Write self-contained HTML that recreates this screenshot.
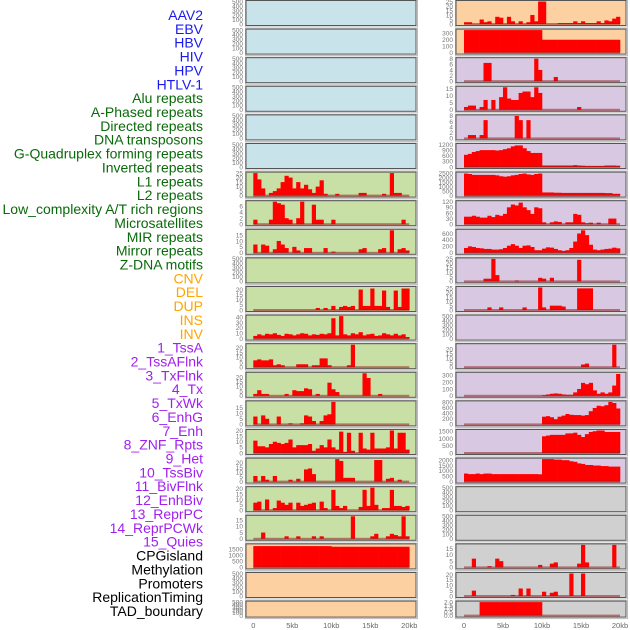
<!DOCTYPE html>
<html><head><meta charset="utf-8"><style>
html,body{margin:0;padding:0;background:#fff;}
svg{display:block;font-family:"Liberation Sans",sans-serif;}
</style></head><body>
<svg id="chart" width="630" height="630" viewBox="0 0 630 630"></svg>
<script>
const labels = ["AAV2","EBV","HBV","HIV","HPV","HTLV-1","Alu repeats","A-Phased repeats","Directed repeats","DNA transposons","G-Quadruplex forming repeats","Inverted repeats","L1 repeats","L2 repeats","Low_complexity A/T rich regions","Microsatellites","MIR repeats","Mirror repeats","Z-DNA motifs","CNV","DEL","DUP","INS","INV","1_TssA","2_TssAFlnk","3_TxFlnk","4_Tx","5_TxWk","6_EnhG","7_Enh","8_ZNF_Rpts","9_Het","10_TssBiv","11_BivFlnk","12_EnhBiv","13_ReprPC","14_ReprPCWk","15_Quies","CPGisland","Methylation","Promoters","ReplicationTiming","TAD_boundary"];
const groups = ["virus","virus","virus","virus","virus","virus","repeat","repeat","repeat","repeat","repeat","repeat","repeat","repeat","repeat","repeat","repeat","repeat","repeat","sv","sv","sv","sv","sv","chrom","chrom","chrom","chrom","chrom","chrom","chrom","chrom","chrom","chrom","chrom","chrom","chrom","chrom","chrom","other","other","other","other","other"];
const xTickLabels = ["0","5kb","10kb","15kb","20kb"];
const xTickValues = [0,5,10,15,20];
const t500 = [0,100,200,300,400,500];
const ticks = [t500,t500,t500,t500,t500,t500,[0,5,10,15,20,25],[0,2,4,6],[0,5,10,15],t500,[0,5,10,15,20],[0,10,20,30,40],[0,5,10,15,20],[0,5,10,15,20],[0,5,10,15],[0,5,10,15,20],[0,5,10,15,20],[0,5,10,15,20],[0,5,10,15],[0,500,1000,1500],t500,t500,
[0,5,10,15,20,25],[0,100,200,300],[0,2,4,6,8],[0,5,10,15],[0,2,4,6,8],[0,300,600,900,1200],[0,500,1000,1500,2000,2500],[0,30,60,90,120],[0,200,400,600],[0,5,10,15,20,25],[0,5,10,15,20,25],t500,[0,5,10,15,20],[0,100,200,300],[0,200,400,600,800],[0,500,1000,1500],[0,500,1000,1500,2000],t500,t500,[0,5,10,15],[0,5,10,15,20],[0.0,0.5,1.0,1.5,2.0]];
const yMax = [500,500,500,500,500,500,25,7.5,19,500,22,42,23,24,20,20,24,21,18,1850,500,500,
25,350,8,16,8,1200,2500,120,700,25,26,500,25,330,820,1550,2100,500,500,18,21,2];
const alu = [25,18,8,0,3,5,8,15,22,20,8,15,8,12,7,3,10,17,2,0,0,2,0,0,0,0,0,3,3,0,0,0,0,2,0,25,3,3,0,0];
const aPhased = [1.5,0,0,0,1.5,7.5,7,6.5,2,1.5,0,2,7.5,0,0,6.5,1.5,1.5,0,0,1.5,0,0,0,0,0,0,0,0,0,0,0,0,0,0,0,0,0,1.5,0];
const directed = [7,0,7,6,0,3,10,7,4,0,5,2,0,4,4,0,0,0,4,0,1,0,0,0,0,0,0,3,4,0,0,0,3,4,0,19,0,3,4,2];
const gquad = [0,0,0,0,0,0,0,0,0,0,0,0,0,0,0,0,2,0,2,0,4,0,3,4,3,4,0,20,4,4,21,4,4,19,3,0,19,3,21,21];
const inverted = [5,8,6,9,8,10,7,5,9,8,6,8,10,9,6,8,7,9,8,10,38,6,42,8,6,10,8,12,6,8,9,5,6,10,8,6,9,6,8,3];
const l1 = [7,8,7,7,8,2,3,2,0,0,0,3,3,3,0,2,2,9,9,2,0,0,0,0,2,23,0,0,0,0,0,0,0,0,0,0,0,0,0,0];
const l2 = [2,6,2,2,0,0,0,0,2,0,6,5,5,8,7,0,2,0,0,14,7,4,0,0,0,0,0,0,24,19,0,0,2,0,0,0,0,0,0,0];
const lowComplexity = [7,0,8,5,0,0,7,0,0,1,0,0,1,8,7,3,0,3,8,9,20,0,0,0,0,0,0,0,0,0,0,0,0,0,0,0,0,0,0,0];
const micro = [11,6,6,5,8,10,9,8,9,12,5,7,7,7,8,2,4,7,5,12,5,3,19,1,18,2,0,18,4,3,18,4,4,4,5,20,4,18,18,3];
const mir = [6,0,6,2,0,6,0,0,0,2,0,3,0,13,14,8,0,0,0,0,0,24,22,4,4,4,0,0,0,0,0,23,23,0,3,4,0,2,0,0];
const mirror = [7,8,0,10,0,2,9,7,5,7,0,7,4,5,6,7,0,8,2,0,19,4,2,4,0,0,0,3,19,4,21,5,0,2,2,19,4,4,3,4];
const zdna = [0,0,5,0,0,0,0,0,2,0,0,2,0,0,0,2,0,2,0,0,0,0,0,0,0,18,0,0,0,0,2,4,0,0,2,4,3,2,18,2];
const cnv = [1750,1750,1750,1750,1750,1750,1750,1750,1750,1750,1750,1750,1750,1750,1750,1750,1750,1750,1750,1750,1700,1700,1700,1700,1700,1700,1700,1700,1700,1700,1700,1700,1700,1700,1700,1700,1700,1700,1700,1700];
const ins = [2,2,0,0,5,2,3,0,8,7,0,8,3,0,3,0,2,10,3,25,25,0,0,0,1,1,1,1,3,1,3,1,1,1,3,1,4,3,6,8];
const inv = [350,350,350,350,350,350,350,350,350,350,350,350,350,350,350,350,350,350,350,350,200,200,200,200,200,200,200,200,200,200,200,200,200,200,200,200,200,200,200,200];
const tssA = [0,0,0,0,0,6.5,6.5,0,0,0,0,0,0,0,0,0,0,0,8,4,0,0,0,1.5,0,0,0,0,0,0,0,0,0,0,0,0,0,0,0,0];
const tssAFlnk = [2,3,3,0,2,7,0,7,0,9,16,8,7,7,12,13,13,9,16,12,0,0,0,0,0,0,0,0,0,2,0,0,0,0,0,0,0,0,0,0];
const txFlnk = [0,1.2,1.2,0,1.2,6.5,0,0,0,0,0,0,0,8,6.5,0,6.5,0,0,0,0,0,0,0,0,0,0,0,0,0,0,0,0,0,0,0,0,0,0,0];
const tx = [650,700,800,850,900,900,900,900,880,900,950,1000,1100,1150,1150,1000,850,750,750,750,80,80,80,80,80,80,80,80,100,80,70,60,60,60,60,60,80,80,80,70];
const txWk = [2450,2400,2300,2300,2300,2300,2300,2300,2250,2150,2100,2150,2250,2300,2400,2450,2350,2300,2400,2450,350,350,350,320,320,300,300,300,300,300,300,300,300,300,300,300,280,280,200,200];
const enhG = [40,40,45,40,35,35,45,38,50,45,55,90,105,100,115,90,75,55,90,85,10,0,10,15,12,0,10,10,55,50,10,5,8,0,8,0,0,30,30,0];
const enh = [150,200,180,150,140,120,120,100,100,110,150,220,270,220,150,220,230,180,80,80,130,170,160,120,80,60,80,150,350,600,700,550,250,100,80,100,120,130,160,140];
const znf = [0,0,0,0,0,3,3,25,7,0,0,0,0,1,0,0,0,0,0,4,3,0,4,0,0,0,0,0,0,24,0,0,0,0,0,0,0,0,0,0];
const het = [0,0,0,0,0,0,3,0,0,3,0,0,0,0,0,3,0,0,0,26,3,0,5,5,5,4,0,0,0,25,25,25,25,0,0,0,0,0,0,0];
const bivFlnk = [0,0,0,0,0,0,0,0,0,0,0,0,0,0,0,0,0,0,0,0,0,0,0,0,0,0,0,0,0,0,3,4,0,0,0,0,0,0,25,0];
const enhBiv = [0,0,0,0,0,0,0,0,0,0,0,0,0,0,0,0,0,0,0,0,10,20,30,35,30,20,15,15,50,100,190,170,190,80,30,50,30,50,150,320];
const reprPC = [0,0,0,0,0,0,0,0,0,0,0,0,0,0,0,0,0,0,0,0,280,300,260,190,280,320,380,350,340,340,320,340,480,600,680,660,700,820,780,580];
const reprPCWk = [0,0,0,0,0,0,0,0,0,0,0,0,0,0,0,0,0,0,0,0,1150,1200,1250,1250,1250,1250,1350,1350,1400,1250,1100,1300,1450,1500,1550,1550,1450,1450,1450,1450];
const quies = [750,700,700,750,700,750,750,700,700,700,700,700,700,700,700,700,700,700,700,680,2100,2100,2100,2050,2050,2000,2000,1900,1850,1700,1650,1550,1550,1500,1500,1450,1450,1400,1400,1400];
const promoters = [0,0,7,0,0,0,1,0,7,5,0,0,0,0,0,0,0,0,0,2,0,0,3,4,0,0,0,0,0,3,18,4,0,0,0,0,0,0,18,0];
const replication = [0,0,5,0,0,0,0,0,0,0,0,0,1,0,7,0,7,0,0,0,4,0,3,4,0,0,0,21,0,0,21,0,0,0,0,0,0,0,0,0];
const tad = [0,0,0,0,2,2,2,2,2,2,2,2,2,2,2,2,2,2,2,2,0,0,0,0,0,0,0,0,0,0,0,0,0,0,0,0,0,0,0,0];
const series = [null,null,null,null,null,null,alu,aPhased,directed,null,gquad,inverted,l1,l2,lowComplexity,micro,mir,mirror,zdna,cnv,null,null,
ins,inv,tssA,tssAFlnk,txFlnk,tx,txWk,enhG,enh,znf,het,null,bivFlnk,enhBiv,reprPC,reprPCWk,quies,null,null,promoters,replication,tad];

const NS="http://www.w3.org/2000/svg";
const svg=document.getElementById('chart');
function mk(tag,attrs,parent){const e=document.createElementNS(NS,tag);for(const k in attrs)e.setAttribute(k,attrs[k]);(parent||svg).appendChild(e);return e;}
const bg={virus:"#c9e3ea",repeat:"#c8e0a5",sv:"#fdd0a2",chrom:"#d8c8e2",other:"#d0d0d0"};
const lc={virus:"#1a1aee",repeat:"#0a6a0a",sv:"#ffa500",chrom:"#a020f0",other:"#000"};

// labels
labels.forEach((t,i)=>{
  const e=mk('text',{x:203,y:15+13.86*i+5,'text-anchor':'end','font-size':14,fill:lc[groups[i]]});
  e.textContent=t;
  
  
});

function xScale(col,kb){return col===0?253.3+kb*7.8:464+kb*7.8;}
labels.forEach((t,i)=>{
  const col=i<22?0:1,row=i%22;
  const top=0.5+28.6*row,h=row===21?16:25;
  const px=col===0?246:456;
  const g=mk('g',{});
  
  
  mk('rect',{x:px-0.5,y:top-0.5,width:172,height:h+2,fill:'none',stroke:'#bbb','stroke-width':1},g);
  mk('rect',{x:px,y:top,width:170,height:h,fill:bg[groups[i]],stroke:'#555','stroke-width':1},g);
  const base=top+h-1.5,ptop=top+1;
  const ys=v=>base-(v/yMax[i])*(base-ptop);
  ticks[i].forEach(v=>{
    const tx=mk('text',{x:px-3,y:ys(v)+2.3,'text-anchor':'end','font-size':6.5,fill:'#777'},g);
    tx.textContent=(i===43?v.toFixed(1):v);
    
    
  });
  const d=series[i];
  if(d){
    d.forEach((v,b)=>{
      if(v<=0)return;
      const x0=xScale(col,b*0.5),x1=xScale(col,(b+1)*0.5);
      const r=mk('rect',{x:x0,y:ys(v),width:x1-x0+0.3,height:base-ys(v),fill:'#ff0000'},g);
      
      
    });
    const ln=mk('rect',{x:xScale(col,0),y:base-1,width:xScale(col,20)-xScale(col,0),height:2,fill:'rgba(150,30,30,0.55)'},g);
    
    
  }
});
[0,1].forEach(col=>{
  xTickValues.forEach((v,j)=>{
    const e=mk('text',{x:xScale(col,v),y:628,'text-anchor':'middle','font-size':7.5,fill:'#666'});
    e.textContent=xTickLabels[j];
    
    
  });
});
</script>
</body></html>
